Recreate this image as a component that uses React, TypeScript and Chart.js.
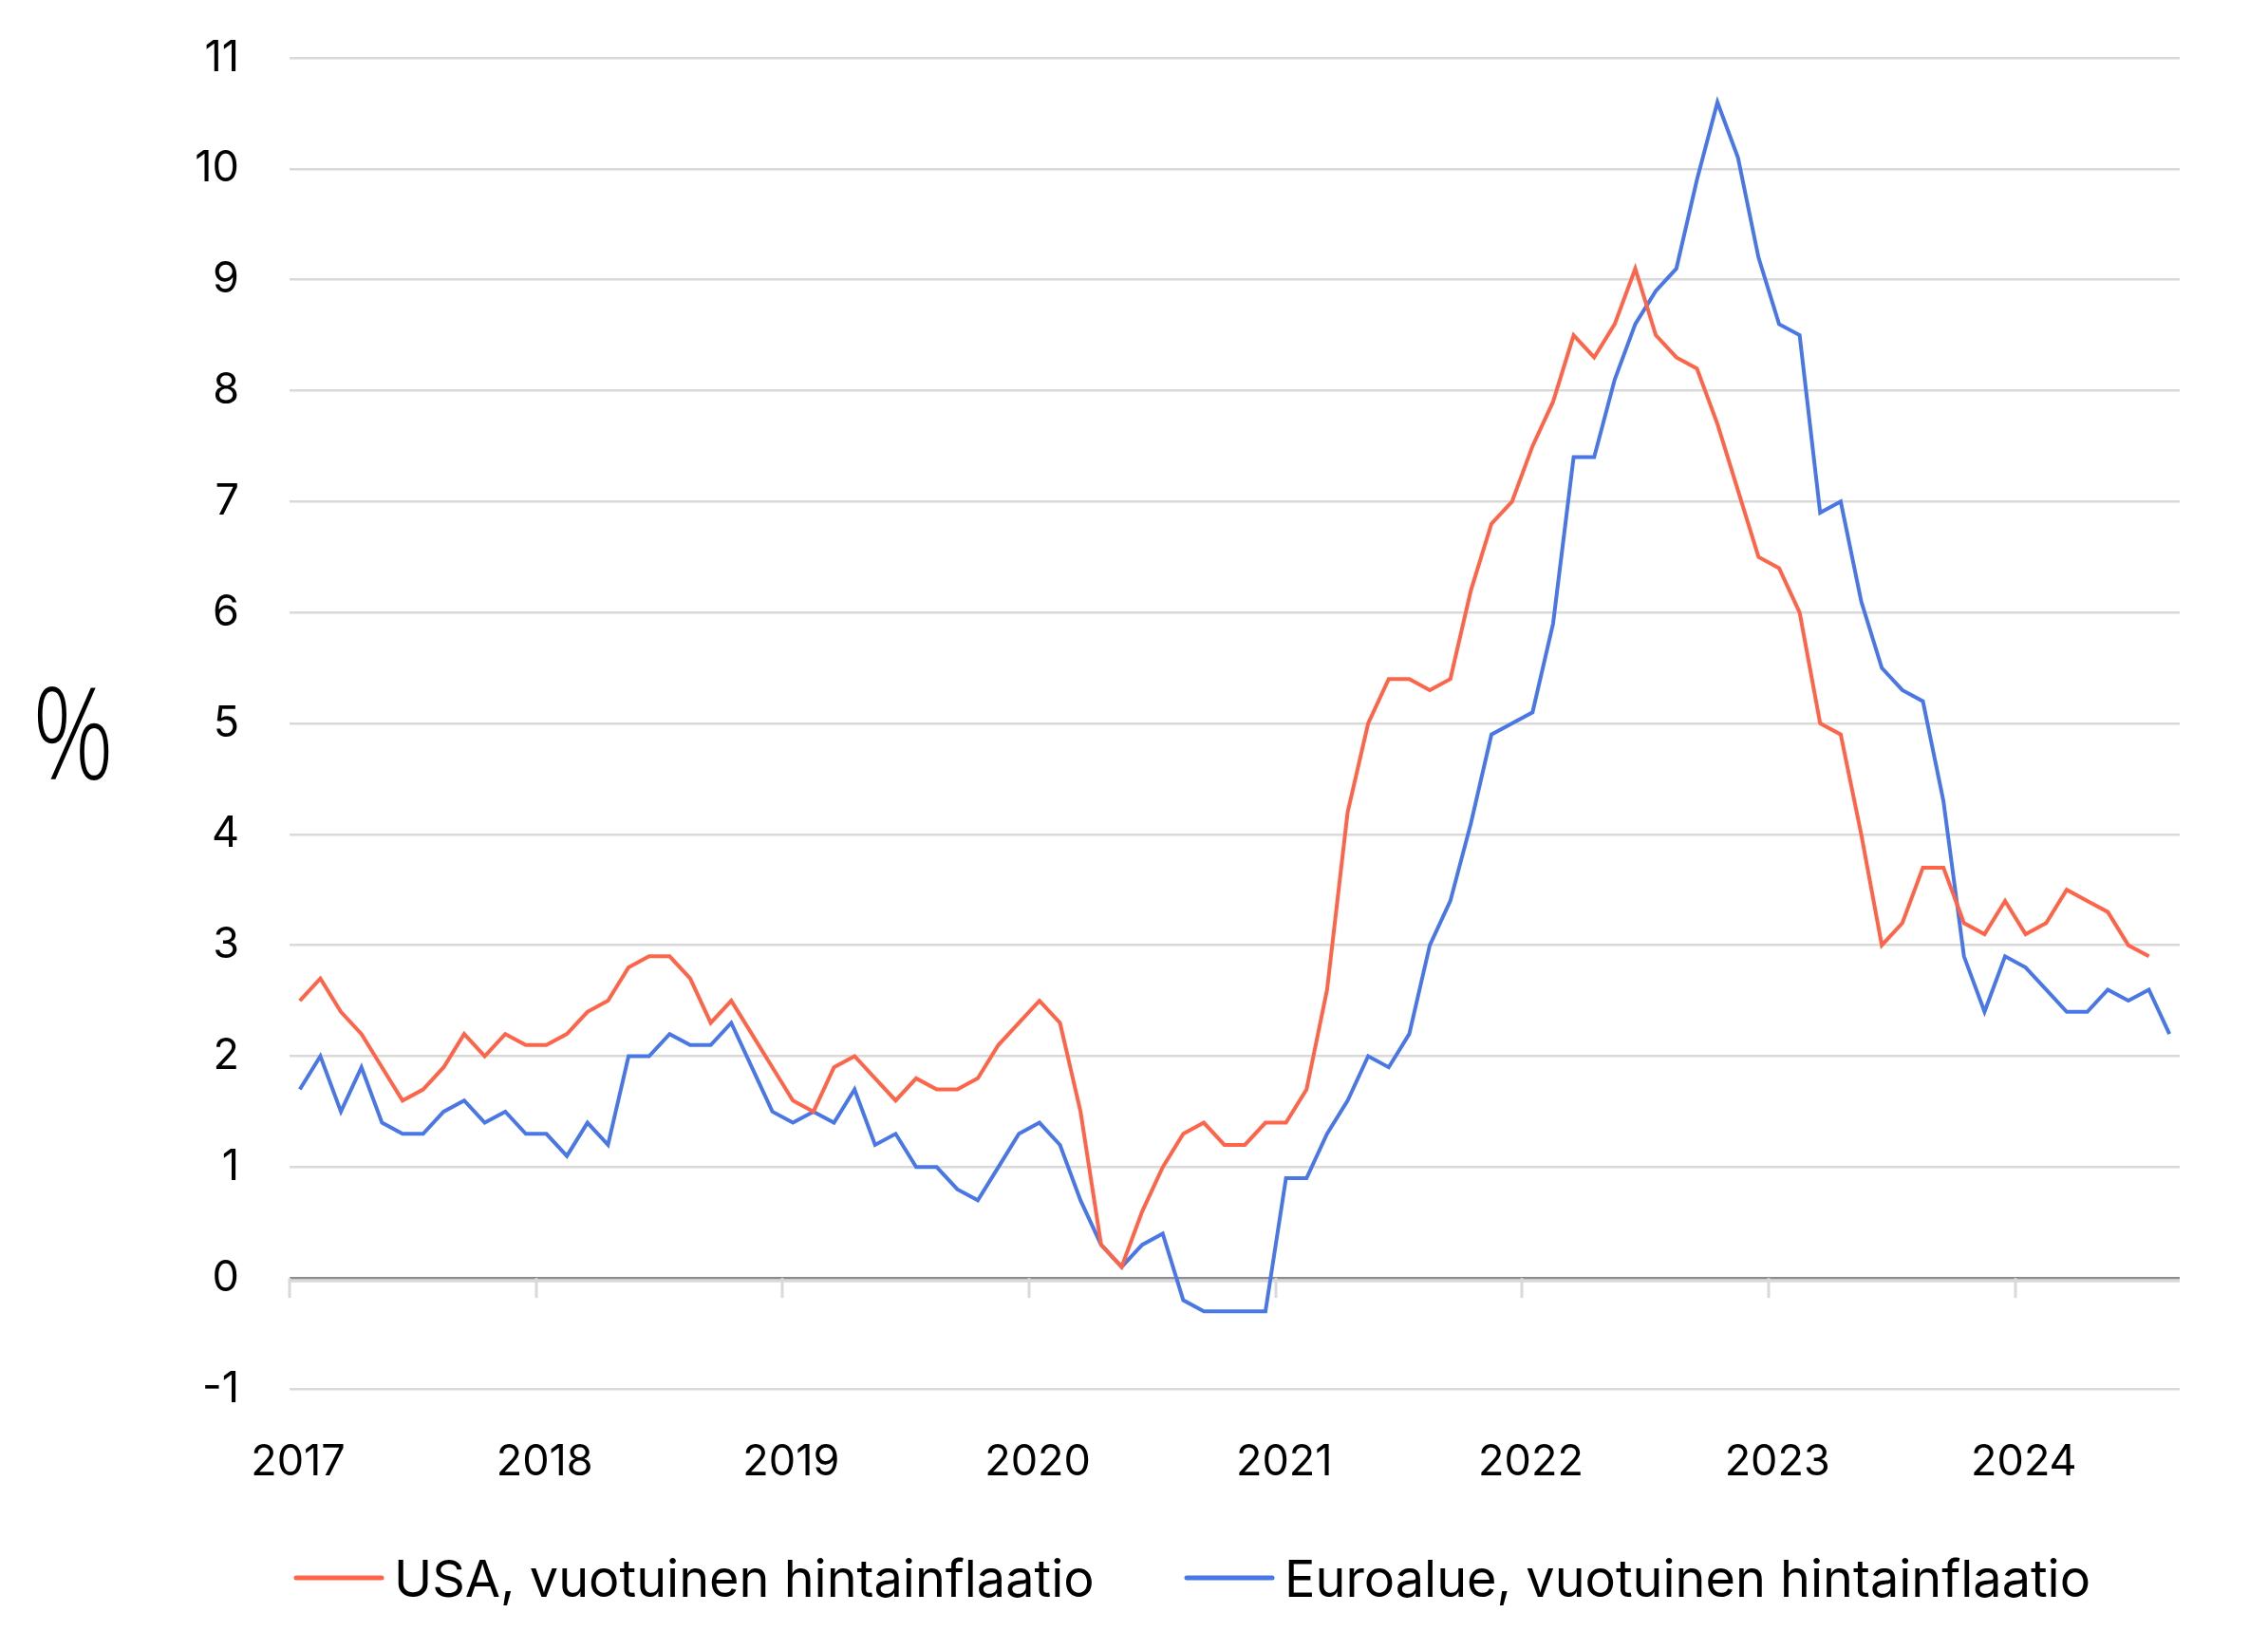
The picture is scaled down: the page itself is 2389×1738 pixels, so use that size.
import React, { useEffect, useRef } from 'react';
import { Chart, registerables } from 'chart.js';

Chart.register(...registerables);

// ---- Data (monthly, Jan 2017 onwards) ----
const startYear = 2017;
const yearLabels = ['2017', '2018', '2019', '2020', '2021', '2022', '2023', '2024'];

const usaInflation = [
  2.5, 2.7, 2.4, 2.2, 1.9, 1.6, 1.7, 1.9, 2.2, 2.0, 2.2, 2.1,
  2.1, 2.2, 2.4, 2.5, 2.8, 2.9, 2.9, 2.7, 2.3, 2.5, 2.2, 1.9,
  1.6, 1.5, 1.9, 2.0, 1.8, 1.6, 1.8, 1.7, 1.7, 1.8, 2.1, 2.3,
  2.5, 2.3, 1.5, 0.3, 0.1, 0.6, 1.0, 1.3, 1.4, 1.2, 1.2, 1.4,
  1.4, 1.7, 2.6, 4.2, 5.0, 5.4, 5.4, 5.3, 5.4, 6.2, 6.8, 7.0,
  7.5, 7.9, 8.5, 8.3, 8.6, 9.1, 8.5, 8.3, 8.2, 7.7, 7.1, 6.5,
  6.4, 6.0, 5.0, 4.9, 4.0, 3.0, 3.2, 3.7, 3.7, 3.2, 3.1, 3.4,
  3.1, 3.2, 3.5, 3.4, 3.3, 3.0, 2.9,
];

const euroInflation = [
  1.7, 2.0, 1.5, 1.9, 1.4, 1.3, 1.3, 1.5, 1.6, 1.4, 1.5, 1.3,
  1.3, 1.1, 1.4, 1.2, 2.0, 2.0, 2.2, 2.1, 2.1, 2.3, 1.9, 1.5,
  1.4, 1.5, 1.4, 1.7, 1.2, 1.3, 1.0, 1.0, 0.8, 0.7, 1.0, 1.3,
  1.4, 1.2, 0.7, 0.3, 0.1, 0.3, 0.4, -0.2, -0.3, -0.3, -0.3, -0.3,
  0.9, 0.9, 1.3, 1.6, 2.0, 1.9, 2.2, 3.0, 3.4, 4.1, 4.9, 5.0,
  5.1, 5.9, 7.4, 7.4, 8.1, 8.6, 8.9, 9.1, 9.9, 10.6, 10.1, 9.2,
  8.6, 8.5, 6.9, 7.0, 6.1, 5.5, 5.3, 5.2, 4.3, 2.9, 2.4, 2.9,
  2.8, 2.6, 2.4, 2.4, 2.6, 2.5, 2.6, 2.2,
];

const seriesNames = ['USA, vuotuinen hintainflaatio', 'Euroalue, vuotuinen hintainflaatio'];
const seriesColors = ['#ff6449', '#4a77e8'];
const yMin = -1;
const yMax = 11;
const monthsShown = 92; // x-axis extent in months from Jan 2017
const yAxisTitle = '%';

const FONT = 'Inter, "Noto Sans", sans-serif';

const toPoints = (vals: number[]) => vals.map((v, i) => ({ x: i + 0.5, y: v }));

const legendStarts = [312, 1250];

const decorPlugin = {
  id: 'decor',
  beforeDatasetsDraw(chart: any) {
    const { ctx, chartArea, scales } = chart;
    const x = scales.x;
    const y = scales.y;
    const y0 = y.getPixelForValue(0);
    ctx.save();
    ctx.strokeStyle = '#d9d9d9';
    ctx.lineWidth = 3;
    ctx.beginPath();
    ctx.moveTo(chartArea.left, y0 + 3);
    ctx.lineTo(chartArea.right, y0 + 3);
    ctx.stroke();
    yearLabels.forEach((_, i) => {
      const px = Math.round(x.getPixelForValue(i * 12));
      ctx.beginPath();
      ctx.moveTo(px, y0);
      ctx.lineTo(px, y0 + 21);
      ctx.stroke();
    });
    ctx.restore();
  },
  afterDraw(chart: any) {
    const { ctx } = chart;
    ctx.save();
    ctx.fillStyle = '#000';
    ctx.font = `300 124px "Open Sans", ${FONT}`;
    ctx.textAlign = 'center';
    ctx.textBaseline = 'alphabetic';
    ctx.translate(77, 821);
    ctx.scale(0.86, 1.08);
    ctx.fillText(yAxisTitle, 0, 0);
    ctx.restore();

    ctx.save();
    ctx.font = `400 54px ${FONT}`;
    ctx.textBaseline = 'alphabetic';
    ctx.textAlign = 'left';
    const ly = 1662;
    seriesNames.forEach((name, i) => {
      const lx = legendStarts[i];
      ctx.strokeStyle = seriesColors[i];
      ctx.lineWidth = 5;
      ctx.lineCap = 'round';
      ctx.beginPath();
      ctx.moveTo(lx, ly);
      ctx.lineTo(lx + 90, ly);
      ctx.stroke();
      ctx.fillStyle = '#000';
      ctx.fillText(name, lx + 103, 1682);
    });
    ctx.restore();
  },
};

export default function App() {
  const canvasRef = useRef<HTMLCanvasElement>(null);

  useEffect(() => {
    document.body.style.margin = '0';
    const canvas = canvasRef.current;
    if (!canvas) return;
    const chart = new Chart(canvas, {
      type: 'line',
      data: {
        datasets: [
          {
            label: seriesNames[0],
            data: toPoints(usaInflation),
            borderColor: seriesColors[0],
            backgroundColor: seriesColors[0],
            borderWidth: 4,
            pointRadius: 0,
            tension: 0,
          },
          {
            label: seriesNames[1],
            data: toPoints(euroInflation),
            borderColor: seriesColors[1],
            backgroundColor: seriesColors[1],
            borderWidth: 4,
            pointRadius: 0,
            tension: 0,
          },
        ],
      },
      options: {
        animation: false,
        responsive: true,
        maintainAspectRatio: false,
        layout: { padding: { top: 61, right: 93, left: 0, bottom: 0 } },
        plugins: {
          legend: { display: false },
          tooltip: { enabled: false },
        },
        scales: {
          x: {
            type: 'linear',
            min: 0,
            max: monthsShown,
            grid: { display: false, drawTicks: false },
            border: { display: false },
            afterFit: (scale: any) => {
              scale.height = 1738 - 1463;
            },
            ticks: {
              stepSize: 12,
              includeBounds: false,
              autoSkip: false,
              maxRotation: 0,
              padding: 50,
              labelOffset: 9,
              color: '#000',
              font: { family: FONT, size: 45 },
              callback: (v: any) => {
                const n = Number(v);
                if (n % 12 !== 0) return '';
                return yearLabels[n / 12] ?? String(startYear + n / 12);
              },
            },
          },
          y: {
            min: yMin,
            max: yMax,
            afterFit: (scale: any) => {
              scale.width = 305;
            },
            grid: {
              drawTicks: true,
              tickLength: 50,
              tickColor: 'rgba(0,0,0,0)',
              lineWidth: 2.5,
              color: (c: any) => (c.tick && c.tick.value === 0 ? '#8c8c8c' : '#d9d9d9'),
            },
            border: { display: false },
            ticks: {
              stepSize: 1,
              padding: 3,
              color: '#000',
              font: { family: FONT, size: 45 },
            },
          },
        },
      },
      plugins: [decorPlugin],
    });
    return () => chart.destroy();
  }, []);

  return (
    <div style={{ position: 'fixed', left: 0, top: 0, width: 2389, height: 1738, background: '#fff' }}>
      <canvas ref={canvasRef} />
    </div>
  );
}
